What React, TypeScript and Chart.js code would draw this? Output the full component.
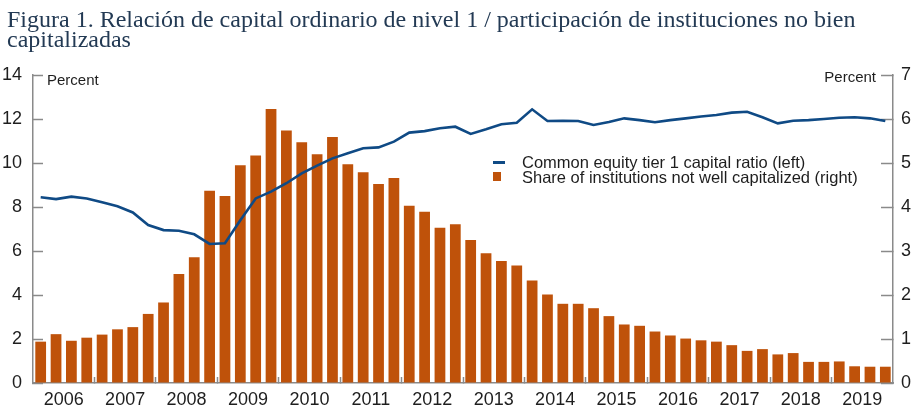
import React, { useEffect, useRef } from "react";
import { Chart, registerables } from "chart.js";

Chart.register(...registerables);

const years = ["2006", "2007", "2008", "2009", "2010", "2011", "2012", "2013", "2014", "2015", "2016", "2017", "2018", "2019"];
const quarterNames = ["Q1", "Q2", "Q3", "Q4"];
const categories = years.flatMap((y) => quarterNames.map((q) => `${y} ${q}`));

// Share of institutions not well capitalized (right axis, percent)
const shareNotWellCapitalized = [
  0.94, 1.11, 0.96, 1.03,
  1.10, 1.22, 1.27, 1.57,
  1.83, 2.48, 2.86, 4.37,
  4.25, 4.95, 5.17, 6.23,
  5.74, 5.47, 5.20, 5.59,
  4.97, 4.79, 4.52, 4.66,
  4.03, 3.89, 3.53, 3.61,
  3.25, 2.95, 2.77, 2.67,
  2.33, 2.01, 1.80, 1.80,
  1.70, 1.52, 1.33, 1.30,
  1.17, 1.08, 1.01, 0.97,
  0.94, 0.86, 0.73, 0.77,
  0.65, 0.68, 0.48, 0.48,
  0.49, 0.38, 0.37, 0.37,
];

// Common equity tier 1 capital ratio (left axis, percent)
const cet1Ratio = [
  8.44, 8.36, 8.47, 8.39,
  8.22, 8.03, 7.75, 7.18,
  6.95, 6.92, 6.76, 6.32,
  6.35, 7.40, 8.39, 8.70,
  9.08, 9.53, 9.88, 10.21,
  10.44, 10.67, 10.71, 10.97,
  11.38, 11.45, 11.58, 11.65,
  11.32, 11.53, 11.76, 11.83,
  12.44, 11.91, 11.92, 11.91,
  11.73, 11.86, 12.03, 11.95,
  11.85, 11.95, 12.03, 12.11,
  12.18, 12.29, 12.33, 12.08,
  11.80, 11.92, 11.95, 12.00,
  12.06, 12.08, 12.03, 11.91,
];

const leftTicks = [0, 2, 4, 6, 8, 10, 12, 14];
const rightTicks = [0, 1, 2, 3, 4, 5, 6, 7];

const titleText = "Figura 1. Relación de capital ordinario de nivel 1 / participación de instituciones no bien capitalizadas";
const lineLabel = "Common equity tier 1 capital ratio (left)";
const barLabel = "Share of institutions not well capitalized (right)";
const unitLabel = "Percent";

const BAR_COLOR = "#BF520A";
const LINE_COLOR = "#0F4A85";
const AXIS_COLOR = "#8a8a8a";
const TEXT_COLOR = "#1e1e1e";
const NARROW = '"Liberation Sans Narrow", "Arial Narrow", "Liberation Sans", Arial, sans-serif';

const percentPlugin = {
  id: "percentLabels",
  afterDraw(chart: any) {
    const { ctx, chartArea } = chart;
    ctx.save();
    ctx.font = `15px ${NARROW}`;
    ctx.fillStyle = TEXT_COLOR;
    ctx.textBaseline = "middle";
    ctx.textAlign = "left";
    ctx.fillText(unitLabel, chartArea.left + 14, chartArea.top + 6);
    ctx.textAlign = "right";
    ctx.fillText(unitLabel, chartArea.right - 17, chartArea.top + 3);
    ctx.restore();
  },
};

export default function App() {
  const canvasRef = useRef<HTMLCanvasElement | null>(null);

  useEffect(() => {
    if (!canvasRef.current) return;
    const chart = new Chart(canvasRef.current, {
      type: "bar",
      data: {
        labels: categories,
        datasets: [
          {
            type: "line",
            label: lineLabel,
            data: cet1Ratio,
            yAxisID: "yLeft",
            borderColor: LINE_COLOR,
            backgroundColor: LINE_COLOR,
            borderWidth: 2.6,
            pointRadius: 0,
            tension: 0,
            order: 0,
          } as any,
          {
            type: "bar",
            label: barLabel,
            data: shareNotWellCapitalized,
            yAxisID: "yRight",
            backgroundColor: BAR_COLOR,
            borderWidth: 0,
            barPercentage: 0.7,
            categoryPercentage: 1,
            order: 1,
          },
        ],
      },
      options: {
        responsive: false,
        animation: false,
        layout: { padding: { top: 75, left: 0, right: 0, bottom: 0 } },
        plugins: {
          legend: { display: false },
          tooltip: { enabled: false },
        },
        scales: {
          x: {
            type: "category",
            offset: true,
            border: { display: true, color: AXIS_COLOR, width: 1.5 },
            grid: {
              offset: true,
              drawOnChartArea: false,
              drawTicks: true,
              tickLength: -6,
              tickWidth: 1.5,
              tickColor: (ctx: any) =>
                ctx.index !== undefined && ctx.index > 0 && ctx.index % 4 === 0 ? AXIS_COLOR : "rgba(0,0,0,0)",
            },
            ticks: {
              autoSkip: false,
              maxRotation: 0,
              minRotation: 0,
              padding: 12,
              labelOffset: 7.68,
              color: TEXT_COLOR,
              font: { family: NARROW, size: 18 },
              callback: (_v: any, i: number) => (i % 4 === 1 ? years[Math.floor(i / 4)] : ""),
            },
            afterFit: (s: any) => {
              s.height = 35;
            },
          },
          yLeft: {
            type: "linear",
            position: "left",
            min: leftTicks[0],
            max: leftTicks[leftTicks.length - 1],
            afterBuildTicks: (s: any) => {
              s.ticks = leftTicks.map((v) => ({ value: v }));
            },
            border: { display: true, color: AXIS_COLOR, width: 1.5 },
            grid: {
              drawOnChartArea: false,
              drawTicks: true,
              tickLength: -10,
              tickWidth: 1.5,
              tickColor: AXIS_COLOR,
            },
            ticks: {
              padding: 21,
              color: TEXT_COLOR,
              font: { family: NARROW, size: 18 },
            },
            afterFit: (s: any) => {
              s.width = 33;
            },
          },
          yRight: {
            type: "linear",
            position: "right",
            min: rightTicks[0],
            max: rightTicks[rightTicks.length - 1],
            afterBuildTicks: (s: any) => {
              s.ticks = rightTicks.map((v) => ({ value: v }));
            },
            border: { display: true, color: AXIS_COLOR, width: 1.5 },
            grid: {
              drawOnChartArea: false,
              drawTicks: true,
              tickLength: -12,
              tickWidth: 1.5,
              tickColor: AXIS_COLOR,
            },
            ticks: {
              padding: 20,
              color: TEXT_COLOR,
              font: { family: NARROW, size: 18 },
            },
            afterFit: (s: any) => {
              s.width = 28;
            },
          },
        },
      },
      plugins: [percentPlugin],
    });
    return () => chart.destroy();
  }, []);

  const legendText: React.CSSProperties = {
    position: "absolute",
    left: 522,
    fontFamily: NARROW,
    fontSize: 16.5,
    color: TEXT_COLOR,
    lineHeight: "16px",
    whiteSpace: "nowrap",
  };

  return (
    <div style={{ position: "absolute", left: 0, top: 0, width: 921, height: 418, background: "#fff", overflow: "hidden" }}>
      <canvas ref={canvasRef} width={921} height={418} style={{ position: "absolute", left: 0, top: 0, width: 921, height: 418 }} />
      <div
        style={{
          position: "absolute",
          left: 7,
          top: 9,
          width: 880,
          fontFamily: '"Liberation Serif", "DejaVu Serif", serif',
          fontSize: 24,
          lineHeight: "20px",
          color: "#233a54",
        }}
      >
        {titleText}
      </div>
      <div style={{ position: "absolute", left: 493, top: 161, width: 12, height: 2.6, background: LINE_COLOR }} />
      <div style={{ ...legendText, top: 154 }}>{lineLabel}</div>
      <div style={{ position: "absolute", left: 493, top: 172, width: 8, height: 9, background: BAR_COLOR }} />
      <div style={{ ...legendText, top: 169 }}>{barLabel}</div>
    </div>
  );
}
